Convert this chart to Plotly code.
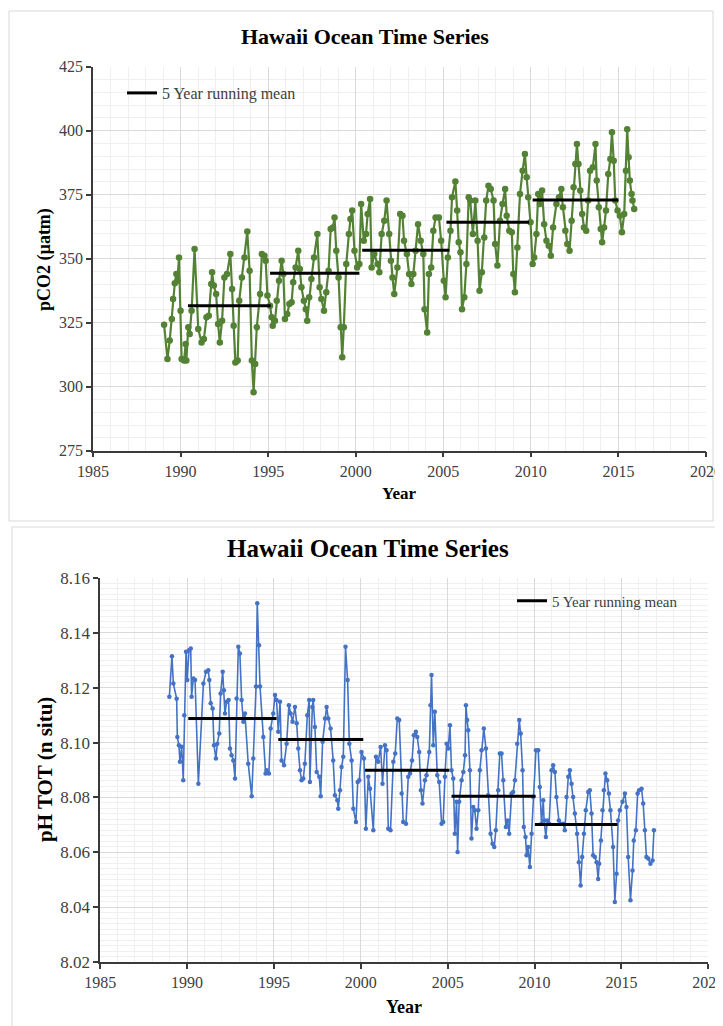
import plotly.graph_objects as go

# ---------------- data ----------------
pco2_year = [
    1989.06, 1989.25, 1989.38, 1989.50, 1989.57, 1989.67, 1989.76, 1989.82, 1989.91, 1990.00,
    1990.06, 1990.20, 1990.29, 1990.33, 1990.44, 1990.52, 1990.63, 1990.80, 1991.01, 1991.20,
    1991.33, 1991.48, 1991.61, 1991.75, 1991.80, 1991.90, 1992.03, 1992.14, 1992.24, 1992.37,
    1992.50, 1992.65, 1992.84, 1992.94, 1993.03, 1993.13, 1993.26, 1993.35, 1993.50, 1993.65,
    1993.81, 1993.94, 1994.07, 1994.17, 1994.26, 1994.35, 1994.54, 1994.64, 1994.79, 1994.86,
    1994.96, 1995.11, 1995.20, 1995.26, 1995.39, 1995.49, 1995.62, 1995.77, 1995.87, 1995.96,
    1996.09, 1996.21, 1996.34, 1996.43, 1996.57, 1996.72, 1996.81, 1996.90, 1997.04, 1997.15,
    1997.23, 1997.34, 1997.47, 1997.62, 1997.81, 1997.94, 1998.04, 1998.19, 1998.32, 1998.45,
    1998.57, 1998.70, 1998.79, 1998.89, 1999.02, 1999.14, 1999.23, 1999.32, 1999.46, 1999.61,
    1999.70, 1999.80, 1999.93, 2000.08, 2000.21, 2000.31, 2000.46, 2000.59, 2000.68, 2000.82,
    2000.91, 2001.06, 2001.25, 2001.35, 2001.48, 2001.63, 2001.76, 2001.91, 2002.01, 2002.10,
    2002.20, 2002.38, 2002.54, 2002.67, 2002.76, 2002.92, 2003.05, 2003.18, 2003.29, 2003.42,
    2003.56, 2003.71, 2003.86, 2003.93, 2004.08, 2004.18, 2004.31, 2004.43, 2004.56, 2004.75,
    2004.88, 2005.03, 2005.13, 2005.26, 2005.41, 2005.50, 2005.69, 2005.79, 2005.88, 2005.98,
    2006.07, 2006.20, 2006.32, 2006.45, 2006.54, 2006.69, 2006.83, 2006.96, 2007.07, 2007.20,
    2007.34, 2007.45, 2007.58, 2007.71, 2007.87, 2007.96, 2008.09, 2008.24, 2008.38, 2008.53,
    2008.62, 2008.77, 2008.91, 2009.00, 2009.09, 2009.23, 2009.38, 2009.53, 2009.66, 2009.76,
    2009.85, 2009.98, 2010.10, 2010.19, 2010.32, 2010.42, 2010.51, 2010.64, 2010.76, 2010.89,
    2011.02, 2011.14, 2011.27, 2011.46, 2011.61, 2011.74, 2011.83, 2011.97, 2012.08, 2012.21,
    2012.33, 2012.44, 2012.54, 2012.63, 2012.72, 2012.82, 2012.93, 2013.03, 2013.16, 2013.27,
    2013.38, 2013.54, 2013.69, 2013.76, 2013.88, 2013.99, 2014.07, 2014.18, 2014.29, 2014.42,
    2014.54, 2014.63, 2014.73, 2014.82, 2014.95, 2015.08, 2015.20, 2015.33, 2015.43, 2015.50,
    2015.58, 2015.65, 2015.75, 2015.80, 2015.90,
]
pco2_value = [
    324.2, 310.8, 318.0, 326.4, 334.3, 340.4, 344.0, 341.4, 350.5, 329.7,
    310.8, 310.2, 316.7, 310.2, 323.2, 320.6, 329.7, 353.8, 322.5, 317.3,
    318.6, 327.1, 327.7, 340.1, 344.7, 339.5, 336.2, 324.5, 317.3, 325.8,
    342.7, 344.0, 351.8, 338.2, 323.8, 309.5, 310.2, 333.6, 342.7, 350.5,
    360.6, 345.3, 310.2, 297.8, 308.9, 323.2, 336.2, 351.8, 351.2, 349.2,
    335.6, 331.6, 327.1, 323.8, 325.8, 333.6, 341.4, 349.2, 344.0, 326.4,
    328.4, 332.3, 333.0, 340.8, 346.6, 353.1, 346.0, 338.8, 333.6, 330.3,
    325.8, 334.9, 342.1, 350.5, 359.6, 338.8, 334.3, 329.7, 336.9, 345.3,
    361.6, 362.2, 366.1, 353.1, 342.7, 323.2, 311.5, 323.2, 347.9, 359.6,
    365.5, 368.8, 353.1, 346.6, 347.9, 371.4, 357.0, 359.6, 367.5, 373.3,
    346.6, 351.8, 347.9, 344.7, 359.6, 364.8, 372.7, 359.6, 349.2, 342.7,
    336.2, 346.6, 367.5, 366.8, 357.0, 351.8, 344.0, 340.1, 344.0, 353.1,
    363.5, 357.0, 351.8, 330.3, 321.2, 344.0, 346.6, 360.9, 366.1, 366.1,
    357.0, 341.4, 334.9, 350.5, 360.9, 374.0, 380.2, 368.8, 356.4, 352.5,
    330.3, 334.9, 347.9, 374.0, 372.7, 359.6, 372.7, 357.0, 337.5, 344.7,
    358.3, 372.7, 378.5, 377.2, 372.7, 355.7, 347.3, 364.8, 371.4, 377.2,
    366.8, 360.9, 360.3, 344.0, 336.9, 354.4, 375.3, 384.4, 390.9, 381.8,
    374.0, 364.2, 347.9, 350.5, 359.6, 375.3, 371.4, 376.6, 363.5, 357.0,
    355.1, 351.2, 362.2, 371.4, 374.0, 377.2, 370.1, 360.9, 355.7, 353.1,
    364.8, 377.9, 387.0, 394.8, 387.0, 376.6, 367.5, 362.2, 360.9, 372.7,
    384.4, 385.7, 394.8, 380.5, 370.1, 361.6, 356.4, 362.2, 368.8, 383.1,
    388.9, 399.4, 388.3, 372.7, 368.8, 366.8, 360.3, 367.5, 384.4, 400.6,
    389.6, 380.5, 375.3, 372.7, 369.4,
]
pco2_mean_start = [1990.42, 1995.11, 2000.37, 2005.18, 2010.10]
pco2_mean_end = [1995.15, 2000.21, 2005.35, 2009.90, 2015.00]
pco2_mean_value = [331.6, 344.3, 353.3, 364.2, 372.9]

ph_year = [
    1988.98, 1989.13, 1989.21, 1989.40, 1989.44, 1989.53, 1989.59, 1989.69, 1989.78, 1989.84,
    1989.94, 1990.01, 1990.11, 1990.21, 1990.26, 1990.36, 1990.46, 1990.65, 1990.94, 1991.09,
    1991.22, 1991.28, 1991.36, 1991.47, 1991.55, 1991.66, 1991.74, 1991.85, 1991.93, 1992.05,
    1992.12, 1992.18, 1992.28, 1992.39, 1992.47, 1992.56, 1992.66, 1992.76, 1992.85, 1992.95,
    1993.04, 1993.14, 1993.24, 1993.33, 1993.52, 1993.72, 1993.81, 1993.97, 1994.04, 1994.14,
    1994.20, 1994.39, 1994.52, 1994.58, 1994.71, 1994.81, 1994.96, 1995.06, 1995.15, 1995.25,
    1995.35, 1995.44, 1995.58, 1995.73, 1995.86, 1995.96, 1996.07, 1996.21, 1996.31, 1996.40,
    1996.50, 1996.59, 1996.69, 1996.78, 1996.92, 1997.03, 1997.07, 1997.21, 1997.26, 1997.36,
    1997.46, 1997.61, 1997.69, 1997.80, 1997.94, 1998.03, 1998.13, 1998.26, 1998.41, 1998.51,
    1998.65, 1998.70, 1998.80, 1998.89, 1998.99, 1999.12, 1999.24, 1999.34, 1999.47, 1999.57,
    1999.72, 1999.82, 1999.91, 2000.04, 2000.18, 2000.29, 2000.43, 2000.53, 2000.72, 2000.87,
    2001.00, 2001.14, 2001.25, 2001.39, 2001.48, 2001.58, 2001.71, 2001.87, 2001.98, 2002.10,
    2002.21, 2002.35, 2002.44, 2002.60, 2002.73, 2002.83, 2002.95, 2003.05, 2003.17, 2003.25,
    2003.36, 2003.46, 2003.55, 2003.69, 2003.78, 2003.94, 2004.01, 2004.07, 2004.17, 2004.26,
    2004.40, 2004.51, 2004.65, 2004.74, 2004.84, 2004.94, 2005.03, 2005.13, 2005.22, 2005.32,
    2005.41, 2005.51, 2005.57, 2005.66, 2005.80, 2005.90, 2006.00, 2006.05, 2006.12, 2006.18,
    2006.28, 2006.37, 2006.47, 2006.56, 2006.66, 2006.76, 2006.85, 2006.95, 2007.08, 2007.20,
    2007.33, 2007.47, 2007.58, 2007.68, 2007.77, 2007.91, 2008.00, 2008.10, 2008.20, 2008.35,
    2008.45, 2008.54, 2008.68, 2008.77, 2008.87, 2009.00, 2009.12, 2009.20, 2009.31, 2009.38,
    2009.48, 2009.54, 2009.63, 2009.73, 2009.83, 2009.92, 2010.08, 2010.21, 2010.30, 2010.40,
    2010.50, 2010.55, 2010.65, 2010.73, 2010.84, 2010.98, 2011.07, 2011.17, 2011.26, 2011.40,
    2011.49, 2011.65, 2011.74, 2011.84, 2011.94, 2012.03, 2012.13, 2012.22, 2012.32, 2012.45,
    2012.55, 2012.65, 2012.74, 2012.84, 2012.95, 2013.09, 2013.18, 2013.28, 2013.37, 2013.47,
    2013.57, 2013.66, 2013.72, 2013.82, 2013.91, 2013.99, 2014.08, 2014.18, 2014.28, 2014.37,
    2014.52, 2014.62, 2014.72, 2014.81, 2014.91, 2015.06, 2015.20, 2015.29, 2015.39, 2015.52,
    2015.64, 2015.71, 2015.83, 2015.93, 2016.02, 2016.16, 2016.25, 2016.35, 2016.44, 2016.54,
    2016.67, 2016.79, 2016.87,
]
ph_value = [
    8.1167, 8.1315, 8.1215, 8.1160, 8.1020, 8.0990, 8.0930, 8.0985, 8.0863, 8.1100,
    8.1331, 8.1228, 8.1337, 8.1343, 8.1167, 8.1234, 8.1228, 8.0850, 8.1215, 8.1258,
    8.1264, 8.1228, 8.1143, 8.1124, 8.0990, 8.0942, 8.0996, 8.1033, 8.1179, 8.1258,
    8.1191, 8.1106, 8.1149, 8.1155, 8.0978, 8.0954, 8.0935, 8.0869, 8.1161, 8.1349,
    8.1325, 8.1155, 8.1076, 8.1106, 8.0923, 8.0804, 8.0942, 8.1204, 8.1508, 8.1355,
    8.1204, 8.1020, 8.0887, 8.0899, 8.0887, 8.1051, 8.1106, 8.1173, 8.1155, 8.1039,
    8.1149, 8.0935, 8.0917, 8.0996, 8.1136, 8.1106, 8.1076, 8.1130, 8.1070, 8.0978,
    8.0899, 8.0863, 8.0869, 8.0923, 8.1100, 8.1155, 8.0856, 8.1130, 8.1155, 8.1057,
    8.0893, 8.0875, 8.0804, 8.1003, 8.1088, 8.1130, 8.1088, 8.1051, 8.0935, 8.0808,
    8.0790, 8.0759, 8.0826, 8.0911, 8.0948, 8.1349, 8.1228, 8.0996, 8.0935, 8.0759,
    8.0710, 8.0856, 8.0863, 8.0966, 8.0942, 8.0686, 8.0875, 8.0832, 8.0680, 8.0948,
    8.0930, 8.0984, 8.0850, 8.0990, 8.0972, 8.0686, 8.0680, 8.0930, 8.0960, 8.1088,
    8.1082, 8.0814, 8.0710, 8.0704, 8.0875, 8.0887, 8.0935, 8.1027, 8.1039, 8.1020,
    8.0966, 8.0826, 8.0778, 8.0863, 8.0881, 8.0966, 8.1136, 8.1246, 8.0990, 8.1112,
    8.0881, 8.0856, 8.0704, 8.0710, 8.0875, 8.0996, 8.0978, 8.1063, 8.0899, 8.0869,
    8.0668, 8.0784, 8.0601, 8.0784, 8.0863, 8.0893, 8.0954, 8.1136, 8.1082, 8.1045,
    8.0899, 8.0650, 8.0765, 8.0753, 8.0686, 8.0753, 8.0899, 8.0972, 8.1051, 8.0978,
    8.0808, 8.0668, 8.0631, 8.0619, 8.0680, 8.0826, 8.0960, 8.0960, 8.0863, 8.0692,
    8.0716, 8.0668, 8.0814, 8.0820, 8.0863, 8.0996, 8.1082, 8.1033, 8.0899, 8.0692,
    8.0656, 8.0589, 8.0619, 8.0546, 8.0668, 8.0802, 8.0972, 8.0972, 8.0838, 8.0704,
    8.0790, 8.0716, 8.0656, 8.0716, 8.0704, 8.0899, 8.0917, 8.0893, 8.0802, 8.0716,
    8.0704, 8.0704, 8.0680, 8.0802, 8.0875, 8.0899, 8.0850, 8.0802, 8.0741, 8.0668,
    8.0564, 8.0479, 8.0583, 8.0668, 8.0753, 8.0820, 8.0826, 8.0741, 8.0589, 8.0583,
    8.0564, 8.0503, 8.0558, 8.0643, 8.0753, 8.0826, 8.0887, 8.0863, 8.0814, 8.0753,
    8.0619, 8.0419, 8.0522, 8.0716, 8.0753, 8.0784, 8.0814, 8.0765, 8.0583, 8.0425,
    8.0534, 8.0643, 8.0680, 8.0814, 8.0826, 8.0832, 8.0778, 8.0680, 8.0583, 8.0577,
    8.0558, 8.0570, 8.0680,
]
ph_mean_start = [1990.07, 1995.25, 2000.24, 2005.22, 2010.02]
ph_mean_end = [1995.15, 2000.14, 2005.09, 2010.06, 2014.77]
ph_mean_value = [8.1088, 8.1011, 8.0899, 8.0804, 8.0701]

title_text = "Hawaii Ocean Time Series"
legend_text = "5 Year running mean"
year_ticks = [1985, 1990, 1995, 2000, 2005, 2010, 2015, 2020]


def segments(starts, ends, values):
    xs, ys = [], []
    for s, e, v in zip(starts, ends, values):
        xs += [s, e, None]
        ys += [v, v, None]
    return xs, ys


# ---------------- figure ----------------
# the page body has an 8px margin, so the figure is sized to fill the rest
OFF = 8
W, H = 723 - OFF, 1026 - OFF
FONT = "Liberation Serif, Times New Roman, serif"
TICKCOL = "#404040"
AXCOL = "#3a3a3a"


def px_x(p):
    return (p - OFF) / W


def px_y(p):
    return 1 - (p - OFF) / H


fig = go.Figure()

fig.add_trace(go.Scatter(
    x=pco2_year, y=pco2_value, mode="lines+markers",
    line=dict(color="#548235", width=2.2),
    marker=dict(size=6.5, color="#548235"),
    showlegend=False, xaxis="x", yaxis="y", hoverinfo="x+y"))
mx, my = segments(pco2_mean_start, pco2_mean_end, pco2_mean_value)
fig.add_trace(go.Scatter(
    x=mx, y=my, mode="lines", line=dict(color="black", width=3),
    name=legend_text, legend="legend", xaxis="x", yaxis="y"))

fig.add_trace(go.Scatter(
    x=ph_year, y=ph_value, mode="lines+markers",
    line=dict(color="#4472C4", width=1.6),
    marker=dict(size=4.5, color="#4472C4"),
    showlegend=False, xaxis="x2", yaxis="y2", hoverinfo="x+y"))
hx, hy = segments(ph_mean_start, ph_mean_end, ph_mean_value)
fig.add_trace(go.Scatter(
    x=hx, y=hy, mode="lines", line=dict(color="black", width=3),
    name=legend_text, legend="legend2", xaxis="x2", yaxis="y2"))


def axis_common(size):
    return dict(
        automargin=False, ticklabeloverflow="allow",
        showline=True, linecolor=AXCOL, linewidth=1.5,
        ticks="outside", ticklen=5, tickwidth=1.5, tickcolor=AXCOL,
        showgrid=True, gridcolor="#d9d9d9", gridwidth=1,
        zeroline=False, mirror=False,
        tickfont=dict(family=FONT, size=size, color=TICKCOL),
    )


fig.update_layout(
    width=W, height=H, autosize=False,
    margin=dict(l=0, r=0, t=0, b=0, pad=0, autoexpand=False),
    paper_bgcolor="white", plot_bgcolor="white",
    font=dict(family=FONT, color="black"),
    xaxis=dict(domain=[px_x(93), px_x(706)], range=[1985, 2020], anchor="y",
               tickmode="array", tickvals=year_ticks,
               minor=dict(dtick=1, tick0=1985, showgrid=True, gridcolor="#efefef", ticks=""),
               **axis_common(16)),
    yaxis=dict(domain=[px_y(450.7), px_y(66.7)], range=[275, 425], anchor="x",
               dtick=25, tick0=275,
               minor=dict(dtick=5, tick0=275, showgrid=True, gridcolor="#efefef", ticks=""),
               **axis_common(16)),
    xaxis2=dict(domain=[px_x(100.2), px_x(708.3)], range=[1985, 2020], anchor="y2",
                tickmode="array", tickvals=year_ticks,
                minor=dict(dtick=1, tick0=1985, showgrid=True, gridcolor="#efefef", ticks=""),
                **axis_common(16)),
    yaxis2=dict(domain=[px_y(962), px_y(578)], range=[8.02, 8.16], anchor="x2",
                dtick=0.02, tick0=8.02, tickformat=".2f",
                minor=dict(dtick=0.002, tick0=8.02, showgrid=True, gridcolor="#f0f0f0", ticks=""),
                **axis_common(17)),
    legend=dict(x=px_x(122), y=px_y(93), xanchor="left", yanchor="middle",
                bgcolor="rgba(255,255,255,0)", borderwidth=0, itemwidth=30,
                font=dict(family=FONT, size=16, color=TICKCOL)),
    legend2=dict(x=px_x(512), y=px_y(601), xanchor="left", yanchor="middle",
                 bgcolor="rgba(255,255,255,0)", borderwidth=0, itemwidth=30,
                 font=dict(family=FONT, size=15, color=TICKCOL)),
    shapes=[
        dict(type="rect", xref="paper", yref="paper", layer="below",
             x0=px_x(9), x1=px_x(713), y0=px_y(521), y1=px_y(11),
             line=dict(color="#d9d9d9", width=1), fillcolor="rgba(0,0,0,0)"),
        dict(type="rect", xref="paper", yref="paper", layer="below",
             x0=px_x(12), x1=px_x(721), y0=px_y(1040), y1=px_y(527),
             line=dict(color="#d9d9d9", width=1), fillcolor="rgba(0,0,0,0)"),
    ],
    annotations=[
        dict(text="<b>" + title_text + "</b>", xref="paper", yref="paper",
             x=px_x(365), y=px_y(37), showarrow=False, xanchor="center", yanchor="middle",
             font=dict(family=FONT, size=22, color="black")),
        dict(text="<b>" + title_text + "</b>", xref="paper", yref="paper",
             x=px_x(368), y=px_y(548), showarrow=False, xanchor="center", yanchor="middle",
             font=dict(family=FONT, size=25, color="black")),
        dict(text="<b>pCO2 (µatm)</b>", xref="paper", yref="paper", textangle=-90,
             x=px_x(45), y=px_y(260), showarrow=False, xanchor="center", yanchor="middle",
             font=dict(family=FONT, size=18, color="black")),
        dict(text="<b>Year</b>", xref="paper", yref="paper",
             x=px_x(399), y=px_y(494), showarrow=False, xanchor="center", yanchor="middle",
             font=dict(family=FONT, size=17, color="black")),
        dict(text="<b>pH TOT (n situ)</b>", xref="paper", yref="paper", textangle=-90,
             x=px_x(45), y=px_y(770), showarrow=False, xanchor="center", yanchor="middle",
             font=dict(family=FONT, size=21, color="black")),
        dict(text="<b>Year</b>", xref="paper", yref="paper",
             x=px_x(404), y=px_y(1007), showarrow=False, xanchor="center", yanchor="middle",
             font=dict(family=FONT, size=18, color="black")),
    ],
)

fig.write_html("out.html", config={"responsive": False})
